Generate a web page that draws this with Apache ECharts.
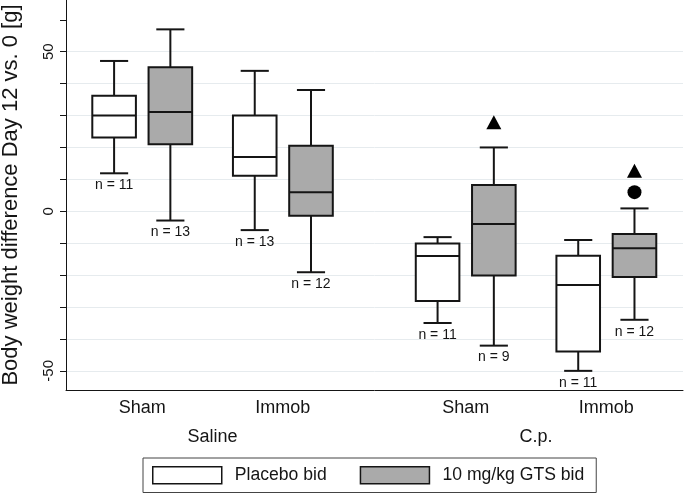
<!DOCTYPE html>
<html><head><meta charset="utf-8">
<script src="https://cdn.jsdelivr.net/npm/echarts@6/dist/echarts.min.js"></script>
<style>html,body{margin:0;padding:0;background:#fff}#c{width:685px;height:494px}</style>
</head><body><div id="c"></div>
<script>
// ---------- data ----------
const groupNames = ['Saline', 'C.p.'];
const categories = ['Sham', 'Immob', 'Sham', 'Immob'];
const seriesNames = ['Placebo bid', '10 mg/kg GTS bid'];
// [lower whisker, Q1, median, Q3, upper whisker] per category
const placeboStats = [
  [11.9, 23.1, 30.0, 36.2, 47.1],
  [-5.9, 11.1, 17.0, 30.0, 44.0],
  [-35.0, -28.1, -14.0, -10.1, -8.1],
  [-50.0, -43.9, -23.1, -13.9, -9.0]
];
const gtsStats = [
  [-2.9, 21.0, 31.1, 45.1, 57.0],
  [-19.1, -1.4, 6.0, 20.5, 38.0],
  [-42.1, -20.1, -4.0, 8.2, 20.0],
  [-34.0, -20.6, -11.6, -7.1, 0.9]
];
const placeboN = [11, 13, 11, 11];
const gtsN = [13, 12, 9, 12];
const gtsTriangleMarks = [null, null, 27.9, 12.7];
const gtsCircleMarks = [null, null, null, 6.0];
const yTickValues = [-50, -40, -30, -20, -10, 0, 10, 20, 30, 40, 50, 60];
const yLabelValues = [-50, 0, 50];
const yGridValues = [-50, -40, -30, -20, -10, 0, 10, 20, 30, 40, 50];

// ---------- layout ----------
const catPos = [1, 2, 3.3, 4.3];
const groupOf = [0, 0, 1, 1];
const pairOffset = 0.2;
const boxW = 0.31, capW = 0.2;
const FONT = '"Liberation Sans", Arial, Helvetica, sans-serif';
const INK = '#151515';
const fills = ['#ffffff', '#aaaaaa'];

const groupPos = groupNames.map((g, gi) => {
  const ps = catPos.filter((p, i) => groupOf[i] === gi);
  return ps.reduce((a, b) => a + b, 0) / ps.length;
});

function boxData(stats, off) {
  return stats.map((s, i) => [catPos[i] + off].concat(s));
}
function renderBox(fill) {
  return function (params, api) {
    const x = api.value(0);
    const p = [1, 2, 3, 4, 5].map(k => api.coord([x, api.value(k)]));
    const cx = p[0][0];
    const bw = api.size([boxW, 0])[0];
    const cw = api.size([capW, 0])[0];
    const st = { stroke: INK, lineWidth: 2, fill: null };
    return { type: 'group', children: [
      { type: 'line', shape: { x1: cx, y1: p[0][1], x2: cx, y2: p[1][1] }, style: st },
      { type: 'line', shape: { x1: cx, y1: p[3][1], x2: cx, y2: p[4][1] }, style: st },
      { type: 'line', shape: { x1: cx - cw / 2, y1: p[0][1], x2: cx + cw / 2, y2: p[0][1] }, style: st },
      { type: 'line', shape: { x1: cx - cw / 2, y1: p[4][1], x2: cx + cw / 2, y2: p[4][1] }, style: st },
      { type: 'rect', shape: { x: cx - bw / 2, y: p[3][1], width: bw, height: p[1][1] - p[3][1] },
        style: { fill: fill, stroke: INK, lineWidth: 2 } },
      { type: 'line', shape: { x1: cx - bw / 2, y1: p[2][1], x2: cx + bw / 2, y2: p[2][1] }, style: st }
    ]};
  };
}
function nData(stats, ns, off) {
  return stats.map((s, i) => [catPos[i] + off, s[0], ns[i]]);
}
function markData(vals, off) {
  return vals.map((v, i) => v == null ? null : [catPos[i] + off, v]).filter(d => d);
}
function nearestName(v, positions, names) {
  for (let i = 0; i < positions.length; i++) if (Math.abs(positions[i] - v) < 1e-6) return names[i];
  return '';
}

const xMin = 0.458, xMax = 4.845;
const chart = echarts.init(document.getElementById('c'), null, { renderer: 'canvas' });
chart.setOption({
  animation: false,
  backgroundColor: '#fff',
  textStyle: { fontFamily: FONT, color: INK },
  grid: { left: 66, right: 2, top: 0, bottom: 104, containLabel: false, outerBoundsMode: 'none' },
  xAxis: [
    {
      type: 'value', min: xMin, max: xMax, position: 'bottom',
      axisLine: { show: true, onZero: false, lineStyle: { color: INK, width: 1 } },
      axisTick: { show: false },
      splitLine: { show: false },
      axisLabel: {
        customValues: catPos, margin: 9, fontSize: 18, color: INK, fontFamily: FONT,
        formatter: v => nearestName(v, catPos, categories)
      }
    },
    {
      type: 'value', min: xMin, max: xMax, position: 'bottom',
      axisLine: { show: false }, axisTick: { show: false }, splitLine: { show: false },
      axisLabel: {
        customValues: groupPos, margin: 38, fontSize: 18, color: INK, fontFamily: FONT,
        formatter: v => nearestName(v, groupPos, groupNames)
      }
    }
  ],
  yAxis: [
    {
      type: 'value', min: -56, max: 66.2,
      axisLine: { show: true, onZero: false, lineStyle: { color: INK, width: 1 } },
      axisTick: { show: true, length: 6, customValues: yTickValues, lineStyle: { color: INK, width: 1 } },
      splitLine: { show: false },
      axisLabel: { customValues: yLabelValues, rotate: 90, margin: 10, fontSize: 15, color: INK, fontFamily: FONT },
      name: 'Body weight difference Day 12 vs. 0 [g]',
      nameLocation: 'middle', nameGap: 44,
      nameTextStyle: { fontSize: 22, color: INK, fontFamily: FONT }
    },
    {
      type: 'value', min: -56, max: 66.2,
      axisLine: { show: false },
      axisTick: { show: false, customValues: yGridValues },
      axisLabel: { show: false, customValues: yGridValues },
      splitLine: { show: true, lineStyle: { color: '#e6ebee', width: 1 } }
    }
  ],
  legend: {
    left: 143, top: 458,
    padding: [8, 12, 8, 9],
    borderColor: '#444', borderWidth: 1,
    itemWidth: 69, itemHeight: 17, itemGap: 33,
    textStyle: { fontSize: 17.6, color: INK, fontFamily: FONT, padding: [0, 0, 0, 8] },
    data: [
      { name: seriesNames[0], icon: 'rect', itemStyle: { color: fills[0], borderColor: INK, borderWidth: 1.5 } },
      { name: seriesNames[1], icon: 'rect', itemStyle: { color: fills[1], borderColor: INK, borderWidth: 1.5 } }
    ]
  },
  series: [
    {
      name: seriesNames[0], type: 'custom', xAxisIndex: 0, yAxisIndex: 0, z: 3,
      itemStyle: { color: fills[0], borderColor: INK, borderWidth: 1.5 },
      encode: { x: 0, y: [1, 2, 3, 4, 5] },
      renderItem: renderBox(fills[0]),
      data: boxData(placeboStats, -pairOffset)
    },
    {
      name: seriesNames[1], type: 'custom', xAxisIndex: 0, yAxisIndex: 0, z: 3,
      itemStyle: { color: fills[1], borderColor: INK, borderWidth: 1.5 },
      encode: { x: 0, y: [1, 2, 3, 4, 5] },
      renderItem: renderBox(fills[1]),
      data: boxData(gtsStats, pairOffset)
    },
    {
      name: 'nLabels', type: 'scatter', symbolSize: 0, z: 4, silent: true,
      itemStyle: { opacity: 1, color: INK },
      label: { show: true, position: 'bottom', distance: 5, fontSize: 14, color: INK, opacity: 1, fontFamily: FONT,
        formatter: p => 'n = ' + p.value[2] },
      data: nData(placeboStats, placeboN, -pairOffset).concat(nData(gtsStats, gtsN, pairOffset))
    },
    {
      name: 'triangles', type: 'scatter', symbol: 'triangle', symbolSize: [15, 14], z: 4,
      itemStyle: { color: '#000', opacity: 1 },
      data: markData(gtsTriangleMarks, pairOffset)
    },
    {
      name: 'circles', type: 'scatter', symbol: 'circle', symbolSize: 14, z: 4,
      itemStyle: { color: '#000', opacity: 1 },
      data: markData(gtsCircleMarks, pairOffset)
    }
  ]
});
</script>
</body></html>
